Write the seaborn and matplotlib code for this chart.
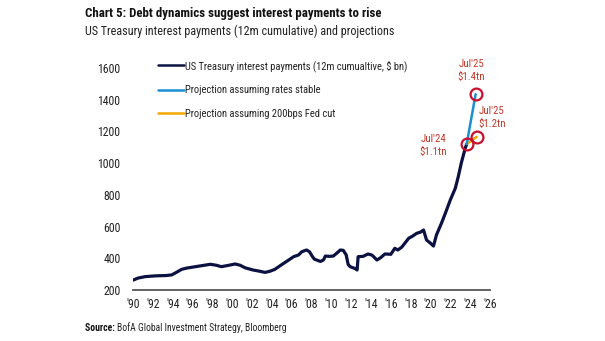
import matplotlib
matplotlib.use("Agg")
import matplotlib.pyplot as plt
from matplotlib import font_manager
import seaborn as sns
import pandas as pd

# ---------------- data ----------------
hist_year = [1990.0, 1990.5, 1991.2, 1992.0, 1992.6, 1993.3, 1993.9, 1994.4, 1994.9, 1995.4,
             1995.9, 1996.8, 1997.8, 1998.4, 1998.9, 1999.6, 2000.3, 2000.8, 2001.3, 2002.1,
             2002.8, 2003.3, 2003.8, 2004.3, 2005.0, 2005.7, 2006.2, 2006.7, 2007.0, 2007.3,
             2007.5, 2007.8, 2008.1, 2008.3, 2008.9, 2009.2, 2009.4, 2009.8, 2010.2, 2010.6,
             2010.9, 2011.2, 2011.5, 2011.7, 2011.9, 2012.4, 2012.6, 2012.7, 2013.2, 2013.7,
             2014.1, 2014.6, 2015.0, 2015.4, 2016.0, 2016.4, 2016.7, 2017.1, 2017.8, 2018.2,
             2018.6, 2019.0, 2019.3, 2019.6, 2020.0, 2020.3, 2020.6, 2021.1, 2021.5, 2022.0,
             2022.5, 2022.8, 2023.1, 2023.5, 2023.65]
hist_value = [262, 275, 284, 288, 290, 291, 295, 312, 330, 338,
              343, 352, 362, 356, 347, 355, 364, 356, 340, 326,
              318, 311, 318, 330, 360, 389, 410, 421, 440, 448,
              452, 441, 410, 394, 380, 389, 414, 412, 414, 435,
              452, 450, 421, 360, 347, 335, 326, 410, 412, 427,
              420, 389, 405, 427, 425, 463, 452, 470, 526, 540,
              557, 565, 578, 515, 495, 477, 547, 620, 684, 768,
              841, 914, 999, 1093, 1120]

proj_year = [2023.65, 2024.55]
proj_stable = [1120, 1434]
proj_cut_year = [2023.65, 2024.65]
proj_cut = [1120, 1165]

marker_year = [2023.65, 2024.55, 2024.65]
marker_value = [1120, 1434, 1165]
marker_labels = ["Jul'24\n$1.1tn", "Jul'25\n$1.4tn", "Jul'25\n$1.2tn"]

y_ticks = [200, 400, 600, 800, 1000, 1200, 1400, 1600]
x_ticks = list(range(1990, 2027, 2))
x_tick_labels = ["'" + str(y)[2:] for y in x_ticks]

series_names = ["US Treasury interest payments (12m cumualtive, $ bn)",
                "Projection assuming rates stable",
                "Projection assuming 200bps Fed cut"]

# ---------------- style ----------------
sns.set_theme(style="white")
names = {f.name for f in font_manager.fontManager.ttflist}
main_font = "DejaVu Sans"
for cand in ["Roboto Condensed", "Fira Sans Condensed", "Archivo Narrow",
             "Liberation Sans Narrow", "Barlow Semi Condensed"]:
    if cand in names:
        main_font = cand
        break
plt.rcParams["font.family"] = [main_font, "DejaVu Sans"]

NAVY = "#0b1242"
BLUE = "#1b8fd2"
ORANGE = "#f5a800"
RED = "#c8102e"
TXT = "#222222"

fig = plt.figure(figsize=(6.05, 3.41), dpi=100)
ax = fig.add_axes([133 / 605, 1 - 290 / 341, (490 - 133) / 605, (290 - 52) / 341])

hist = pd.DataFrame({"year": hist_year, "value": hist_value})
stable = pd.DataFrame({"year": proj_year, "value": proj_stable})
cut = pd.DataFrame({"year": proj_cut_year, "value": proj_cut})

sns.lineplot(data=hist, x="year", y="value", ax=ax, color=NAVY, linewidth=2.3,
             label=series_names[0], sort=False)
sns.lineplot(data=cut, x="year", y="value", ax=ax, color=ORANGE, linewidth=1.8,
             label=series_names[2], sort=False)
sns.lineplot(data=stable, x="year", y="value", ax=ax, color=BLUE, linewidth=1.8,
             label=series_names[1], sort=False)

ax.plot(marker_year, marker_value, linestyle="none", marker="o", markersize=8.5,
        markerfacecolor="none", markeredgecolor=RED, markeredgewidth=1.6, zorder=5)

offsets = [(-24, -1), (-3, 17), (11, 14)]
for xv, yv, lab, off in zip(marker_year, marker_value, marker_labels, offsets):
    ax.annotate(lab, xy=(xv, yv), xytext=off, textcoords="offset points",
                ha="center", va="center", fontsize=7.8, color="#c0392b", linespacing=1.4)

ax.set_xlim(1990, 2026)
ax.set_ylim(200, 1700)
ax.set_yticks(y_ticks)
ax.set_xticks(x_ticks)
ax.set_xticklabels(x_tick_labels)
ax.set_xlabel("")
ax.set_ylabel("")
ax.tick_params(axis="both", length=0, labelsize=8.5, colors=TXT)
ax.tick_params(axis="y", pad=9)
ax.tick_params(axis="x", pad=6)
for s in ["top", "right", "left"]:
    ax.spines[s].set_visible(False)
ax.spines["bottom"].set_color("#555555")
ax.spines["bottom"].set_linewidth(1.3)
ax.grid(False)

handles, labels = ax.get_legend_handles_labels()
order = [labels.index(n) for n in series_names]
leg = ax.legend([handles[i] for i in order], [labels[i] for i in order],
                loc="upper left", bbox_to_anchor=(0.059, 0.985), frameon=False,
                fontsize=7.6, handlelength=2.4, handletextpad=0.1, labelspacing=1.3,
                borderaxespad=0)
for t in leg.get_texts():
    t.set_color(TXT)
for h in leg.legend_handles:
    h.set_linewidth(1.8)

fig.text(85 / 605, 1 - 14 / 341, "Chart 5: Debt dynamics suggest interest payments to rise",
         fontsize=9.3, fontweight="bold", color="#111111", va="center", ha="left")
fig.text(85 / 605, 1 - 31 / 341, "US Treasury interest payments (12m cumulative) and projections",
         fontsize=8.7, color="#222222", va="center", ha="left")
src = fig.text(85 / 605, 1 - 328 / 341, "Source: ", fontsize=6.9, fontweight="bold",
               color="#111111", va="center", ha="left")
fig.canvas.draw()
bb = src.get_window_extent(renderer=fig.canvas.get_renderer())
fig.text(bb.x1 / fig.bbox.width, 1 - 328 / 341, "BofA Global Investment Strategy, Bloomberg",
         fontsize=6.9, color="#222222", va="center", ha="left")

fig.savefig("out.png", dpi=100)
